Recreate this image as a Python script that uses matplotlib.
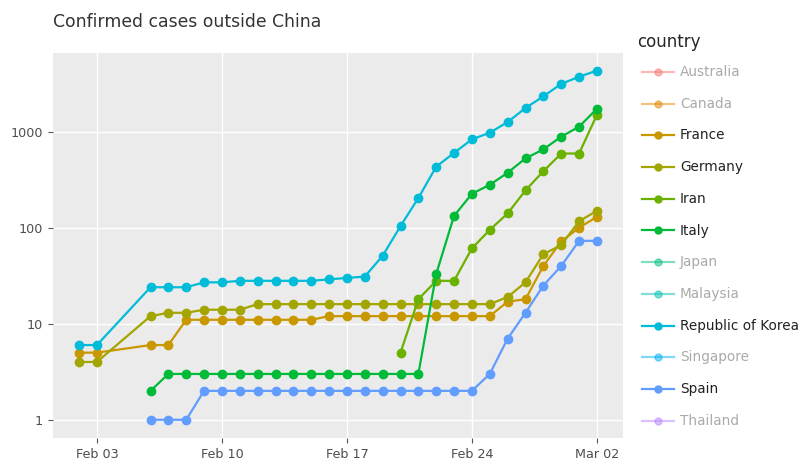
import matplotlib.pyplot as plt
import matplotlib.dates as mdates
from matplotlib.lines import Line2D
import numpy as np
import pandas as pd

plt.rcParams['font.family'] = ['DejaVu Sans']

nan = np.nan

# dates (Feb 04 and Feb 05 not in the data)
dates = pd.to_datetime(['2020-02-02', '2020-02-03'] +
                       [f'2020-02-{d:02d}' for d in range(6, 30)] +
                       ['2020-03-01', '2020-03-02'])

france = [5, 5, 6, 6, 11, 11, 11, 11, 11, 11, 11, 11,
          12, 12, 12, 12, 12, 12, 12, 12, 12, 12, 17, 18, 40, 72, 100, 130]
germany = [4, 4, 12, 13, 13, 14, 14, 14, 16, 16, 16, 16, 16, 16,
           16, 16, 16, 16, 16, 16, 16, 16, 19, 27, 53, 66, 117, 150]
iran = [nan, nan] + [nan] * 14 + [5, 18, 28, 28, 61, 95, 141, 245, 388, 593, 593, 1501]
italy = [nan, nan, 2] + [3] * 15 + [33, 133, 226, 280, 374, 528, 655, 888, 1128, 1735]
korea = [6, 6, 24, 24, 24, 27, 27, 28, 28, 28, 28, 28, 29, 30, 31, 51,
         104, 204, 433, 602, 833, 977, 1261, 1766, 2337, 3150, 3736, 4335]
spain = [nan, nan, 1, 1, 1] + [2] * 16 + [3, 7, 13, 25, 40, 73, 73]

countries = ['Australia', 'Canada', 'France', 'Germany', 'Iran', 'Italy', 'Japan',
             'Malaysia', 'Republic of Korea', 'Singapore', 'Spain', 'Thailand']
colors = ['#F8766D', '#E58700', '#C99800', '#A3A500', '#6BB100', '#00BA38', '#00BF7D',
          '#00C0AF', '#00BCD8', '#00B0F6', '#619CFF', '#B983FF']
shown = {'France': france, 'Germany': germany, 'Iran': iran, 'Italy': italy,
         'Republic of Korea': korea, 'Spain': spain}

fig = plt.figure(figsize=(8.03, 4.61), dpi=100)
W, H = 803, 461
ax = fig.add_axes([53 / W, 1 - 438 / H, (623 - 53) / W, (438 - 53) / H])
ax.set_facecolor('#EBEBEB')

for name, col in zip(countries, colors):
    if name in shown:
        ax.plot(dates, shown[name], '-o', color=col, lw=1.6, markersize=6, zorder=3)

ax.set_yscale('log')
ax.set_ylim(10 ** -0.19, 10 ** 3.82)
ax.set_yticks([1, 10, 100, 1000])
ax.set_yticklabels(['1', '10', '100', '1000'])
ax.minorticks_off()

x0 = mdates.date2num(pd.Timestamp('2020-02-02'))
x1 = mdates.date2num(pd.Timestamp('2020-03-02'))
ax.set_xlim(x0 - 1.46, x1 + 1.46)
ax.set_xticks(mdates.date2num(pd.to_datetime(['2020-02-03', '2020-02-10', '2020-02-17',
                                              '2020-02-24', '2020-03-02'])))
ax.xaxis.set_major_formatter(mdates.DateFormatter('%b %d'))

ax.grid(True, which='major', color='white', linewidth=1.0)
ax.set_axisbelow(True)
for s in ax.spines.values():
    s.set_visible(False)
ax.tick_params(length=3.5, width=0.8, color='#555555', labelcolor='#4D4D4D',
               labelsize=9.2, pad=4)

fig.text(53 / W, 1 - 22 / H, 'Confirmed cases outside China', fontsize=12.4,
         color='#333333', va='center', ha='left')

# legend drawn by hand, the greyed ones are hidden traces
fig.text(637 / W, 1 - 42 / H, 'country', fontsize=12, color='#262626',
         va='center', ha='left')
for i, (name, col) in enumerate(zip(countries, colors)):
    yy = 1 - (72 + 31.7 * i) / H
    on = name in shown
    a = 1.0 if on else 0.5
    fig.add_artist(Line2D([642 / W, 674 / W], [yy, yy], transform=fig.transFigure,
                          color=col, lw=1.6, alpha=a))
    fig.add_artist(Line2D([658 / W], [yy], transform=fig.transFigure, marker='o',
                          markersize=5, color=col, alpha=a, lw=0))
    fig.text(680 / W, yy, name, fontsize=9.8, color='#222222' if on else '#AAAAAA',
             va='center', ha='left')

fig.savefig('out.png', dpi=100)
